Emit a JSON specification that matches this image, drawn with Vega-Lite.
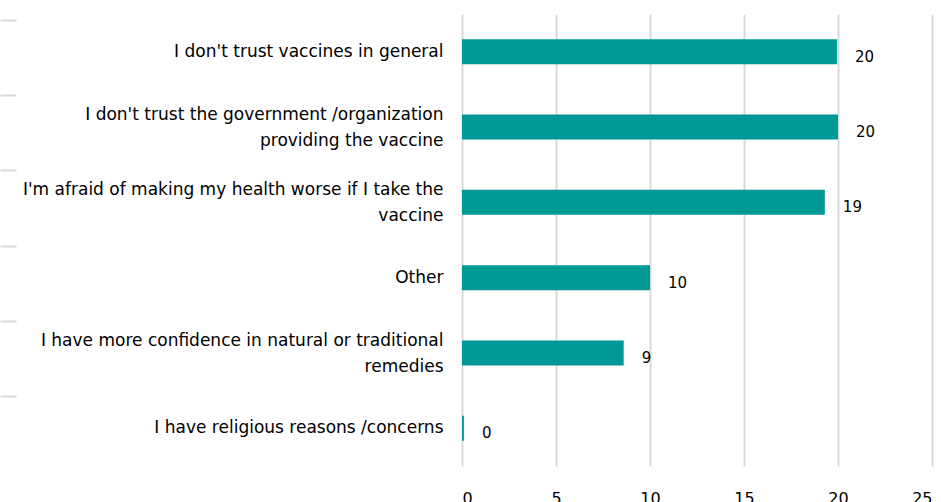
{
  "$schema": "https://vega.github.io/schema/vega-lite/v6.json",
  "width": 470,
  "height": 452,
  "autosize": {"type": "none"},
  "padding": {"left": 462, "top": 14, "right": 9, "bottom": 36},
  "background": "white",
  "config": {"view": {"stroke": null}, "font": "DejaVu Sans"},
  "data": {
    "values": [
      {"reason": "I don't trust vaccines in general", "value": 19.95},
      {"reason": "I don't trust the government /organization|providing the vaccine", "value": 20.0},
      {"reason": "I'm afraid of making my health worse if I take the|vaccine", "value": 19.3},
      {"reason": "Other", "value": 10.0},
      {"reason": "I have more confidence in natural or traditional|remedies", "value": 8.6},
      {"reason": "I have religious reasons /concerns", "value": 0.1}
    ]
  },
  "layer": [
    {
      "mark": {"type": "bar", "size": 25, "color": "#009896"},
      "encoding": {
        "y": {
          "field": "reason", "type": "nominal", "sort": null,
          "scale": {"paddingInner": 0, "paddingOuter": 0},
          "axis": {
            "title": null, "domain": false, "ticks": false, "grid": false, "orient": "left",
            "labelPadding": 19, "labelFontSize": 17, "labelLineHeight": 26,
            "labelExpr": "split(datum.label, '|')", "labelLimit": 0,
            "labelColor": "#000000",
            "labelOffset": {"condition": {"test": "indexof(datum.value, '|') >= 0", "value": -12}, "value": 0}
          }
        },
        "x": {
          "field": "value", "type": "quantitative",
          "scale": {"domain": [0, 25], "nice": false},
          "axis": {
            "title": null, "values": [0, 5, 10, 15, 20, 25], "grid": true,
            "gridColor": "#d9d9d9", "gridWidth": 2, "domain": false, "ticks": false,
            "labelPadding": 24, "labelFontSize": 16, "labelColor": "#000000"
          }
        }
      }
    },
    {
      "mark": {"type": "text", "align": "left", "baseline": "middle", "dx": 18, "dy": 5, "fontSize": 15, "color": "#000000"},
      "encoding": {
        "y": {
          "field": "reason", "type": "nominal", "sort": null,
          "axis": {
            "title": null, "labels": false, "domain": false, "grid": false, "orient": "left",
            "ticks": true, "tickSize": 16, "tickColor": "#d9d9d9", "tickWidth": 2,
            "offset": 446, "bandPosition": 0.08
          }
        },
        "x": {"field": "value", "type": "quantitative"},
        "text": {"field": "value", "type": "quantitative", "format": ".0f"}
      }
    }
  ],
  "resolve": {"axis": {"y": "independent"}}
}
